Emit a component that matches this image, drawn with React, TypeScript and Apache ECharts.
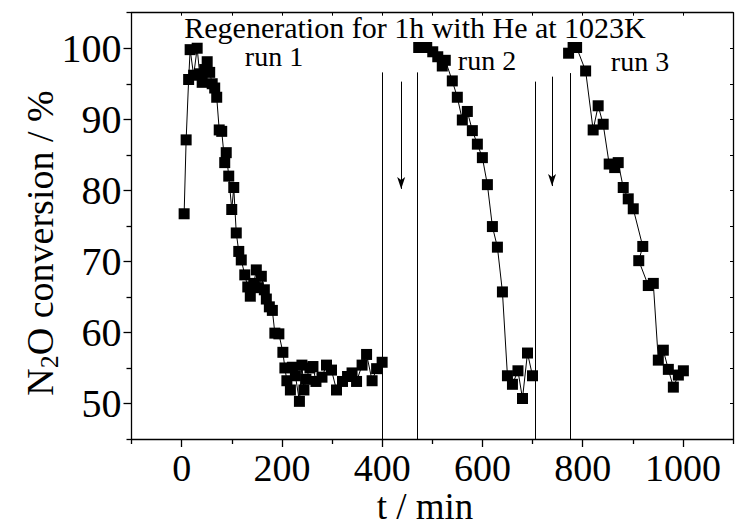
import React, { useEffect, useRef } from "react";
import * as echarts from "echarts";

const run1: [number, number][] = [
  [5, 76.7], [9, 87.1], [14, 95.6], [17, 99.8], [24, 96.2], [31, 100.0], [36, 96.4], [41, 95.2],
  [46, 97.0], [51, 98.1], [56, 96.6], [61, 95.0], [66, 94.4], [70, 93.1], [75, 88.5], [80, 88.3],
  [86, 83.9], [89, 85.3], [94, 82.0], [100, 77.3], [104, 80.4], [109, 74.0], [114, 71.4], [119, 70.2],
  [126, 68.1], [132, 66.4], [137, 65.1], [144, 66.9], [149, 68.8], [153, 66.3], [159, 67.9], [165, 66.0],
  [169, 64.7], [175, 63.6], [181, 63.1], [186, 59.9], [194, 59.8], [202, 57.2], [206, 55.0], [210, 53.2],
  [217, 51.9], [221, 55.1], [227, 53.9], [235, 50.3], [240, 55.4], [244, 51.9], [248, 53.4], [256, 55.0],
  [262, 55.2], [268, 53.1], [280, 53.7], [289, 55.4], [299, 54.7], [309, 51.9], [321, 53.1], [331, 53.8],
  [340, 54.3], [349, 53.1], [360, 55.4], [369, 56.9], [380, 53.2], [389, 54.9], [400, 55.8],
];
const run2: [number, number][] = [
  [473, 100.1], [481, 100.1], [489, 100.1], [501, 99.5], [511, 98.8], [520, 97.5], [526, 98.3],
  [540, 95.4], [550, 93.1], [560, 89.9], [570, 91.1], [580, 88.4], [590, 86.5], [600, 84.6],
  [610, 80.8], [620, 74.9], [630, 72.0], [640, 65.7], [650, 53.9], [660, 52.7], [671, 54.6],
  [680, 50.7], [690, 57.1], [700, 53.9],
];
const run3: [number, number][] = [
  [772, 99.3], [781, 100.1], [788, 100.1], [806, 96.8], [821, 88.5], [831, 91.9], [841, 89.3],
  [853, 83.7], [864, 83.2], [871, 83.9], [881, 80.4], [891, 78.8], [901, 77.4], [920, 72.1],
  [912, 70.1], [931, 66.6], [941, 66.9], [951, 56.1], [961, 57.5], [971, 54.8], [981, 52.3],
  [991, 54.0], [1001, 54.6],
];
// vertical separators: [x, top y]
const vLines: [number, number][] = [[400, 96.6], [470, 96.6], [705, 95.3], [775, 96.5]];
// arrows: [x, from y, to y]
const arrows: [number, number, number][] = [[438, 95.3, 80.2], [739, 96.0, 80.6]];

const xMajor = [0, 200, 400, 600, 800, 1000];
const yMajor = [50, 60, 70, 80, 90, 100];
const X_MIN = -100, X_MAX = 1100, Y_MIN = 45, Y_MAX = 105;

const titleText = "Regeneration for 1h with He at 1023K";
const runLabels = ["run 1", "run 2", "run 3"];

const FONT = "'Liberation Serif', 'Times New Roman', Times, serif";

export default function App() {
  const ref = useRef<HTMLDivElement>(null);
  useEffect(() => {
    if (!ref.current) return;
    const chart = echarts.init(ref.current, null, { renderer: "svg" });
    const axisLine = { show: true, onZero: false, lineStyle: { color: "#000", width: 1.3 } };
    const labelStyle = { color: "#000", fontFamily: FONT, lineHeight: 32, formatter: (v: number) => String(v) };
    const seriesBase = {
      type: "line" as const,
      symbol: "rect",
      symbolSize: 11,
      itemStyle: { color: "#000" },
      lineStyle: { color: "#000", width: 1 },
      xAxisIndex: 0,
      yAxisIndex: 0,
      silent: true,
    };
    chart.setOption({
      animation: false,
      backgroundColor: "#fff",
      textStyle: { fontFamily: FONT },
      grid: { left: 131.5, right: 2, top: 12.7, bottom: 87, containLabel: false },
      xAxis: [
        {
          type: "value", min: X_MIN, max: X_MAX, position: "bottom",
          axisLine,
          axisTick: { show: true, customValues: xMajor, length: 8, lineStyle: { color: "#000", width: 1.3 } },
          axisLabel: { show: true, customValues: xMajor, margin: 13, fontSize: 38, ...labelStyle },
          splitLine: { show: false },
        },
        {
          type: "value", min: X_MIN, max: X_MAX, interval: 200, position: "bottom",
          axisLine: { show: false, onZero: false },
          axisTick: { show: true, length: 5, lineStyle: { color: "#000", width: 1.3 } },
          axisLabel: { show: false },
          splitLine: { show: false },
        },
        {
          type: "value", min: X_MIN, max: X_MAX, interval: 100, position: "top",
          axisLine,
          axisTick: { show: true, inside: true, length: 3, lineStyle: { color: "#000", width: 1 } },
          axisLabel: { show: false },
          splitLine: { show: false },
        },
      ],
      yAxis: [
        {
          type: "value", min: Y_MIN, max: Y_MAX, position: "left",
          axisLine,
          axisTick: { show: true, customValues: yMajor, length: 8, lineStyle: { color: "#000", width: 1.3 } },
          axisLabel: { show: true, customValues: yMajor, margin: 10, fontSize: 40, ...labelStyle },
          splitLine: { show: false },
        },
        {
          type: "value", min: Y_MIN, max: Y_MAX, interval: 10, position: "left",
          axisLine: { show: false, onZero: false },
          axisTick: { show: true, length: 5, lineStyle: { color: "#000", width: 1.3 } },
          axisLabel: { show: false },
          splitLine: { show: false },
        },
        {
          type: "value", min: Y_MIN, max: Y_MAX, interval: 5, position: "right",
          axisLine,
          axisTick: { show: true, inside: true, length: 3, lineStyle: { color: "#000", width: 1 } },
          axisLabel: { show: false },
          splitLine: { show: false },
        },
      ],
      series: [
        {
          ...seriesBase,
          name: "run 1",
          data: run1,
          markLine: {
            silent: true,
            symbol: ["none", "none"],
            label: { show: false },
            lineStyle: { color: "#000", width: 1, type: "solid" },
            data: vLines.map(([x, top]) => [{ coord: [x, Y_MIN] }, { coord: [x, top] }]),
          },
        },
        {
          ...seriesBase,
          name: "run 2",
          data: run2,
          markLine: {
            silent: true,
            symbol: ["none", "arrow"],
            symbolSize: [6, 12],
            label: { show: false },
            lineStyle: { color: "#000", width: 1, type: "solid" },
            data: arrows.map(([x, y0, y1]) => [{ coord: [x, y0] }, { coord: [x, y1] }]),
          },
        },
        { ...seriesBase, name: "run 3", data: run3 },
      ],
      graphic: [
        {
          type: "text", x: 415, y: 27,
          style: { text: titleText, fill: "#000", fontFamily: FONT, fontSize: 30, align: "center", verticalAlign: "middle", textAlign: "center", textVerticalAlign: "middle" },
        },
        ...runLabels.map((t, i) => ({
          type: "text", x: [274, 487, 640][i], y: [56, 60, 61][i],
          style: { text: t, fill: "#000", fontFamily: FONT, fontSize: 28, align: "center", verticalAlign: "middle", textAlign: "center", textVerticalAlign: "middle" },
        })),
        {
          type: "text", x: 40, y: 243, rotation: Math.PI / 2,
          style: {
            text: "{a|N}{b|2}{a|O conversion / %}",
            fill: "#000", fontFamily: FONT, align: "center", verticalAlign: "middle", textAlign: "center", textVerticalAlign: "middle",
            rich: {
              a: { fontFamily: FONT, fontSize: 38, lineHeight: 44, fill: "#000" },
              b: { fontFamily: FONT, fontSize: 26, lineHeight: 26, verticalAlign: "bottom", fill: "#000" },
            },
          },
        },
        {
          type: "text", x: 425, y: 506.5,
          style: { text: "t / min", fill: "#000", fontFamily: FONT, fontSize: 37, lineHeight: 34, align: "center", verticalAlign: "middle", textAlign: "center", textVerticalAlign: "middle" },
        },
      ],
    });
    return () => chart.dispose();
  }, []);
  return (
    <div
      ref={ref}
      style={{ position: "absolute", left: 0, top: 0, width: 735, height: 526, background: "#fff" }}
    />
  );
}
